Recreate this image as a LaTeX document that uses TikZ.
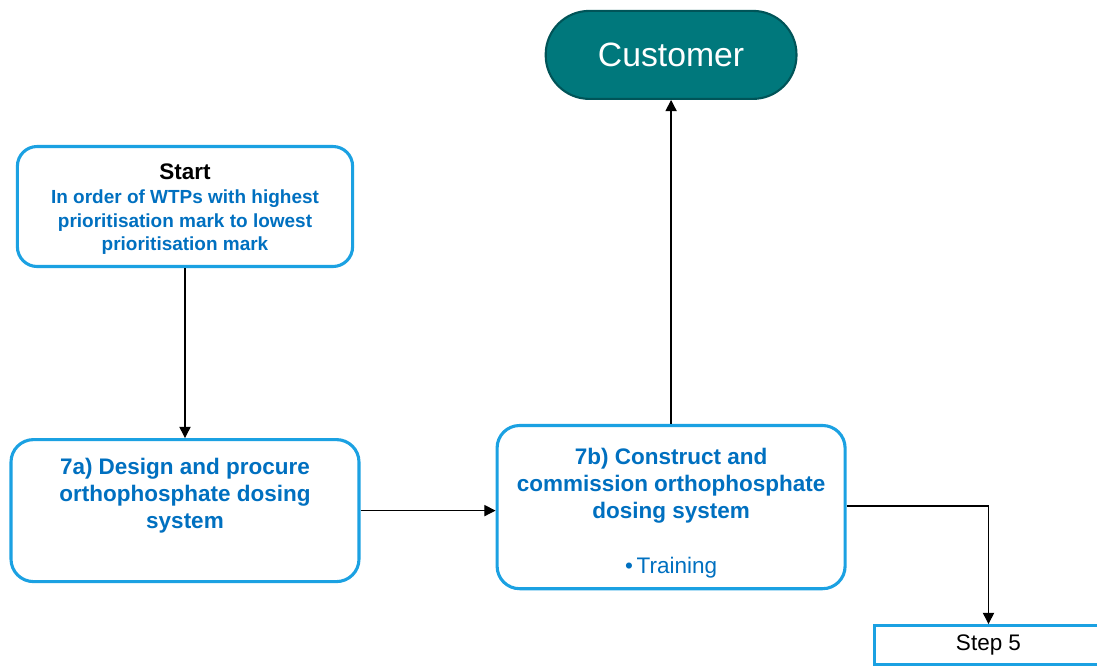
\documentclass[tikz,border=0pt]{standalone}
\usepackage{fontspec}
\setmainfont{Liberation Sans}
\usetikzlibrary{positioning, arrows.meta}
\definecolor{boxblue}{RGB}{27,161,226}
\definecolor{textblue}{RGB}{0,112,192}
\definecolor{tealfill}{RGB}{0,120,124}
\definecolor{tealline}{RGB}{0,84,88}
\newcommand{\startline}[1]{\textcolor{textblue}{\bfseries #1}}

\begin{document}
\begin{tikzpicture}[font=\fontsize{16}{19.2}\selectfont,
    process/.style={draw=boxblue, line width=2.2pt, fill=white,
        rounded corners=16pt, align=center},
    flow/.style={draw=black, line width=0.9pt,
        -{Triangle[length=8pt,width=8pt]}}]
    \useasboundingbox (0,0) rectangle (27.425,-16.65);
    % Add the steps
    \node[process,
        minimum width=8.38cm,
        minimum height=3.0cm,
        rounded corners=14pt,
        font=\fontsize{13.5}{16.2}\selectfont
        ] (start) at (4.625,-5.1625)
        {\rule{0pt}{15pt}{\fontsize{16}{19.2}\selectfont\bfseries Start}\\[1pt]
         \startline{In order of WTPs with highest}\\[0.3pt]
         \startline{prioritisation mark to lowest}\\[0.3pt]
         \startline{prioritisation mark}};
    \node[process,
        below=4.25cm of start,
        minimum width=8.7cm,
        minimum height=3.55cm,
        text=textblue,
        font=\fontsize{16}{19.2}\selectfont\bfseries
        ] (design)
        {7a) Design and procure\\
         orthophosphate dosing\\
         system\\[6pt]\mbox{}};
    \node[process,
        right=3.375cm of design,
        yshift=0.0875cm,
        minimum width=8.7cm,
        minimum height=4.08cm,
        text=textblue,
        font=\fontsize{16}{19.2}\selectfont\bfseries
        ] (construct)
        {\rule{0pt}{20.5pt}7b) Construct and\\
         commission orthophosphate\\
         dosing system\\[20pt]
         \mdseries\textbullet\,Training};
    \node[draw=tealline,
        line width=1.5pt,
        fill=tealfill,
        rounded corners=31pt,
        above=8.1cm of construct,
        minimum width=6.27cm,
        minimum height=2.2cm,
        text=white,
        font=\fontsize{24}{28}\selectfont
        ] (customer) {Customer};
    \node[draw=boxblue,
        line width=2.2pt,
        fill=white,
        minimum width=5.7cm,
        minimum height=0.98cm
        ] (step5) at (24.7125,-16.13) {Step 5};

    % Add the connectors
    \draw[flow] (start) -- (design);
    \draw[flow] (design.east) -- (design.east -| construct.west);
    \draw[flow] (construct) -- (customer);
    \draw[flow] ([yshift=0.025cm]construct.east) -| (step5.north);
\end{tikzpicture}
\end{document}
